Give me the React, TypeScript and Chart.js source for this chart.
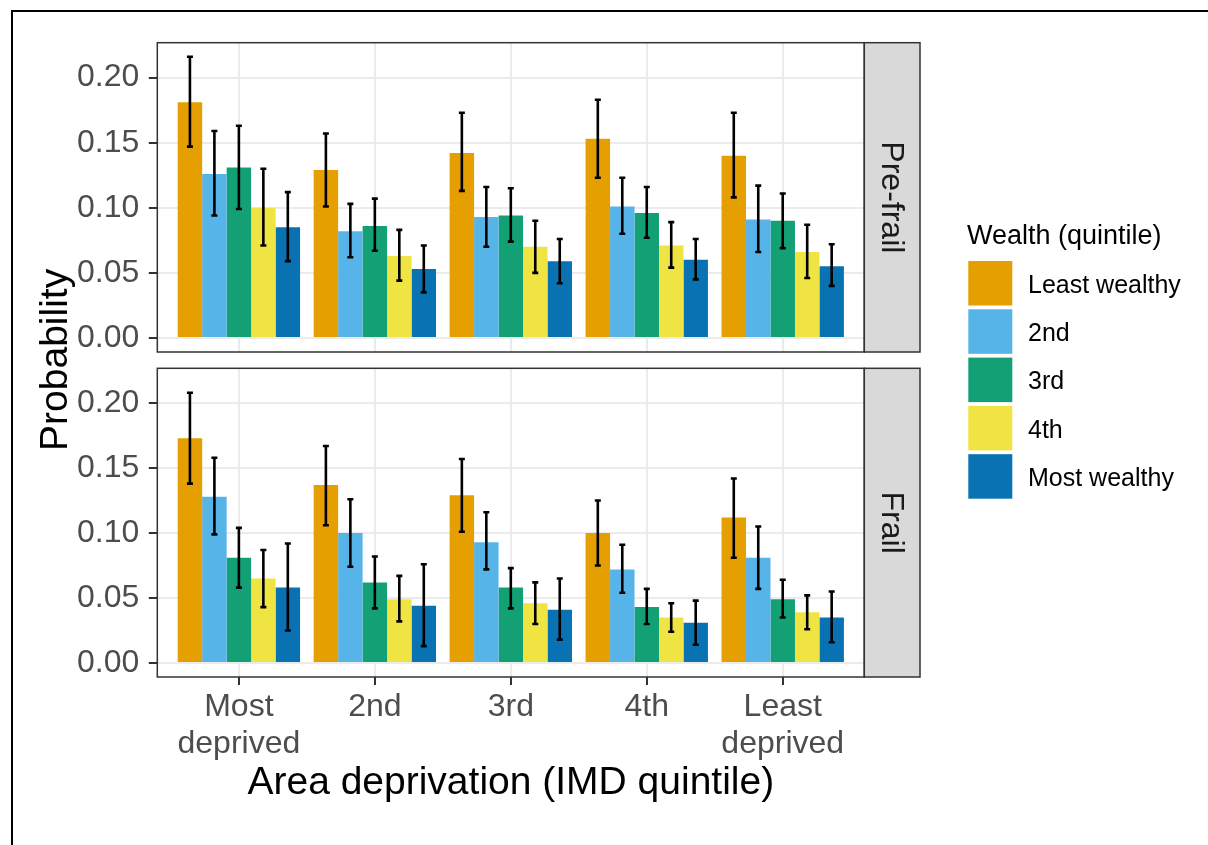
import React, { useEffect, useRef } from "react";
import { Chart, registerables } from "chart.js";

Chart.register(...registerables);

// ---------- data ----------
const deprivationCategories = ["Most deprived", "2nd", "3rd", "4th", "Least deprived"];
const wealthGroups = ["Least wealthy", "2nd", "3rd", "4th", "Most wealthy"];
const wealthColors = ["#E69F00", "#57B4E9", "#14A075", "#F0E442", "#0872B2"];
const yTickValues = [0, 0.05, 0.1, 0.15, 0.2];
const yTickLabels = ["0.00", "0.05", "0.10", "0.15", "0.20"];
const panelNames = ["Pre-frail", "Frail"];

// rows = wealth group, columns = deprivation category
const preFrailEst = [
  [0.181, 0.129, 0.142, 0.153, 0.140],
  [0.126, 0.082, 0.093, 0.101, 0.091],
  [0.131, 0.086, 0.094, 0.096, 0.090],
  [0.100, 0.063, 0.070, 0.071, 0.066],
  [0.085, 0.053, 0.059, 0.060, 0.055],
];
const preFrailLow = [
  [0.147, 0.101, 0.113, 0.123, 0.108],
  [0.094, 0.062, 0.070, 0.080, 0.066],
  [0.099, 0.067, 0.074, 0.077, 0.069],
  [0.071, 0.044, 0.050, 0.054, 0.046],
  [0.059, 0.035, 0.042, 0.045, 0.040],
];
const preFrailHigh = [
  [0.216, 0.157, 0.173, 0.183, 0.173],
  [0.159, 0.103, 0.116, 0.123, 0.117],
  [0.163, 0.107, 0.115, 0.116, 0.111],
  [0.130, 0.083, 0.090, 0.089, 0.087],
  [0.112, 0.071, 0.076, 0.076, 0.072],
];
const frailEst = [
  [0.173, 0.137, 0.129, 0.100, 0.112],
  [0.128, 0.100, 0.093, 0.072, 0.081],
  [0.081, 0.062, 0.058, 0.043, 0.049],
  [0.065, 0.049, 0.046, 0.035, 0.039],
  [0.058, 0.044, 0.041, 0.031, 0.035],
];
const frailLow = [
  [0.138, 0.106, 0.101, 0.075, 0.081],
  [0.099, 0.074, 0.072, 0.054, 0.057],
  [0.058, 0.042, 0.042, 0.030, 0.035],
  [0.043, 0.032, 0.030, 0.024, 0.026],
  [0.025, 0.013, 0.018, 0.014, 0.016],
];
const frailHigh = [
  [0.208, 0.167, 0.157, 0.125, 0.142],
  [0.158, 0.126, 0.116, 0.091, 0.105],
  [0.104, 0.082, 0.073, 0.057, 0.064],
  [0.087, 0.067, 0.062, 0.046, 0.052],
  [0.092, 0.076, 0.065, 0.048, 0.055],
];

const yTitle = "Probability";
const xTitle = "Area deprivation (IMD quintile)";
const legendTitle = "Wealth (quintile)";

// ---------- layout ----------
const W = 1208;
const H = 845;
const PANEL_LEFT = 157.3;
const PANEL_RIGHT = 864.3;
const STRIP_W = 55.7;
const PANEL_BOXES = [
  { top: 42.7, bottom: 352 },
  { top: 368.3, bottom: 677 },
];
const FONT = '"Liberation Sans", Arial, Helvetica, sans-serif';

const allHigh = [...preFrailHigh.flat(), ...frailHigh.flat()];
const dataMax = Math.max(...allHigh);
const Y_MIN = -dataMax * 0.05;
const Y_MAX = dataMax * 1.05;

function panelPlugin(strip: string, low: number[][], high: number[][], extras: boolean) {
  return {
    id: "panelDecor",
    afterDatasetsDraw(chart: any) {
      const { ctx, chartArea: a, scales } = chart;
      const ys = scales.y;
      ctx.save();
      // error bars
      ctx.strokeStyle = "#000000";
      ctx.lineWidth = 2.6;
      ctx.lineCap = "butt";
      low.forEach((row, s) => {
        const meta = chart.getDatasetMeta(s);
        row.forEach((lo, i) => {
          const el = meta.data[i];
          if (!el) return;
          const x = el.x;
          const yl = ys.getPixelForValue(lo);
          const yh = ys.getPixelForValue(high[s][i]);
          ctx.beginPath();
          ctx.moveTo(x, yl);
          ctx.lineTo(x, yh);
          ctx.moveTo(x - 3, yl);
          ctx.lineTo(x + 3, yl);
          ctx.moveTo(x - 3, yh);
          ctx.lineTo(x + 3, yh);
          ctx.stroke();
        });
      });
      // panel border
      ctx.strokeStyle = "#333333";
      ctx.lineWidth = 1.5;
      ctx.strokeRect(a.left, a.top, a.right - a.left, a.bottom - a.top);
      // strip
      ctx.fillStyle = "#d9d9d9";
      ctx.fillRect(a.right, a.top, STRIP_W, a.bottom - a.top);
      ctx.strokeRect(a.right, a.top, STRIP_W, a.bottom - a.top);
      ctx.save();
      ctx.translate(a.right + STRIP_W / 2 - 1.5, (a.top + a.bottom) / 2);
      ctx.rotate(Math.PI / 2);
      ctx.fillStyle = "#1a1a1a";
      ctx.font = `32px ${FONT}`;
      ctx.textAlign = "center";
      ctx.textBaseline = "middle";
      ctx.fillText(strip, 0, 0);
      ctx.restore();

      if (extras) {
        // y axis title
        ctx.save();
        ctx.translate(56, (PANEL_BOXES[0].top + PANEL_BOXES[1].bottom) / 2);
        ctx.rotate(-Math.PI / 2);
        ctx.fillStyle = "#000000";
        ctx.font = `39px ${FONT}`;
        ctx.textAlign = "center";
        ctx.textBaseline = "middle";
        ctx.fillText(yTitle, 0, 0);
        ctx.restore();
        // x axis title
        ctx.fillStyle = "#000000";
        ctx.font = `39px ${FONT}`;
        ctx.textAlign = "center";
        ctx.textBaseline = "alphabetic";
        ctx.fillText(xTitle, (PANEL_LEFT + PANEL_RIGHT) / 2, 794);
        // legend
        ctx.textAlign = "left";
        ctx.font = `27px ${FONT}`;
        ctx.fillText(legendTitle, 967, 243.5);
        ctx.font = `25px ${FONT}`;
        wealthGroups.forEach((g, k) => {
          const y0 = 261 + k * 48.3;
          ctx.fillStyle = wealthColors[k];
          ctx.fillRect(968.3, y0, 44, 44.5);
          ctx.fillStyle = "#000000";
          ctx.fillText(g, 1028, y0 + 22.25 + 9.6);
        });
      }
      ctx.restore();
    },
  };
}

function buildConfig(panelIndex: number, est: number[][], low: number[][], high: number[][]) {
  const box = PANEL_BOXES[panelIndex];
  const showX = panelIndex === 1;
  const gridBase = {
    color: "#ebebeb",
    lineWidth: 2,
    tickColor: "#333333",
    tickWidth: 2,
    offset: false,
  };
  return {
    type: "bar" as const,
    data: {
      datasets: wealthGroups.map((g, s) => ({
        label: g,
        data: est[s].map((v, i) => ({ x: i + 1, y: v })),
        backgroundColor: wealthColors[s],
        borderWidth: 0,
        categoryPercentage: 0.9,
        barPercentage: 1.0,
      })),
    },
    options: {
      animation: false,
      responsive: false,
      devicePixelRatio: 1,
      layout: {
        padding: {
          left: 0,
          top: box.top,
          right: W - PANEL_RIGHT,
          bottom: showX ? 0 : H - box.bottom,
        },
      },
      plugins: {
        legend: { display: false },
        tooltip: { enabled: false },
      },
      scales: {
        x: {
          type: "linear",
          min: 0.4,
          max: 5.6,
          offset: false,
          bounds: "data",
          afterBuildTicks: (scale: any) => {
            scale.ticks = deprivationCategories.map((_, i) => ({ value: i + 1 }));
          },
          afterFit: (scale: any) => {
            scale.height = showX ? H - box.bottom : 0;
          },
          grid: { ...gridBase, drawTicks: showX, tickLength: 8 },
          border: { display: false },
          ticks: {
            display: showX,
            autoSkip: false,
            maxRotation: 0,
            minRotation: 0,
            padding: 4,
            color: "#4d4d4d",
            font: { family: FONT, size: 32, lineHeight: 1.147 },
            callback: (_v: any, i: number) => (deprivationCategories[i] || "").split(" "),
          },
        },
        y: {
          type: "linear",
          min: Y_MIN,
          max: Y_MAX,
          bounds: "data",
          afterBuildTicks: (scale: any) => {
            scale.ticks = yTickValues.map((v) => ({ value: v }));
          },
          afterFit: (scale: any) => {
            scale.width = PANEL_LEFT;
          },
          grid: { ...gridBase, drawTicks: true, tickLength: 8.5 },
          border: { display: false },
          ticks: {
            padding: 9.5,
            color: "#4d4d4d",
            font: { family: FONT, size: 32 },
            callback: (_v: any, i: number) => yTickLabels[i],
          },
        },
      },
    },
    plugins: [panelPlugin(panelNames[panelIndex], low, high, showX)],
  };
}

export default function App() {
  const topRef = useRef<HTMLCanvasElement | null>(null);
  const bottomRef = useRef<HTMLCanvasElement | null>(null);

  useEffect(() => {
    if (!topRef.current || !bottomRef.current) return;
    const c1 = new Chart(topRef.current, buildConfig(0, preFrailEst, preFrailLow, preFrailHigh) as any);
    const c2 = new Chart(bottomRef.current, buildConfig(1, frailEst, frailLow, frailHigh) as any);
    return () => {
      c1.destroy();
      c2.destroy();
    };
  }, []);

  const canvasStyle: React.CSSProperties = { position: "absolute", left: 0, top: 0, width: W, height: H };
  return (
    <div style={{ position: "fixed", left: 0, top: 0, width: W, height: H, background: "#ffffff", overflow: "hidden" }}>
      <canvas ref={topRef} width={W} height={H} style={canvasStyle} />
      <canvas ref={bottomRef} width={W} height={H} style={canvasStyle} />
      <div style={{ position: "absolute", left: 11, top: 9.5, width: W - 11, height: 2, background: "#000" }} />
      <div style={{ position: "absolute", left: 11, top: 9.5, width: 2, height: H - 9.5, background: "#000" }} />
    </div>
  );
}
